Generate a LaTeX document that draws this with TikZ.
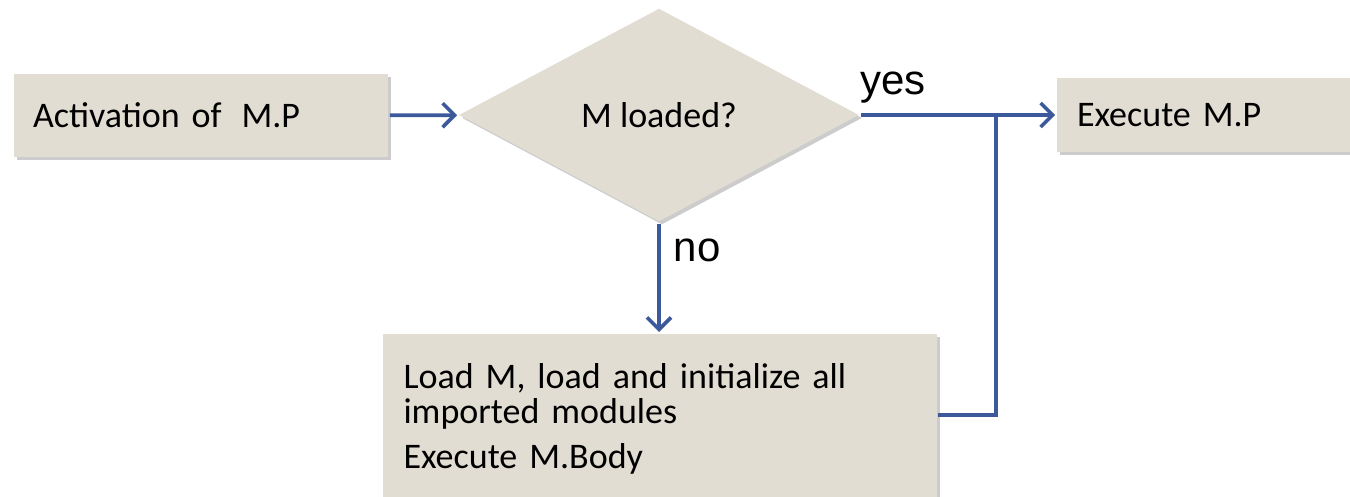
\documentclass[tikz,border=0pt]{standalone}
\usepackage{fontspec}
\setmainfont{Carlito}
\newfontfamily\arialfont{Liberation Sans}
\usepackage{tikz}
\usetikzlibrary{arrows.meta}
\usetikzlibrary{shapes.geometric}
\usetikzlibrary{shadows}
\definecolor{beige}{RGB}{226,221,211}
\definecolor{bleu}{RGB}{60,90,155}

\begin{document}
\begin{tikzpicture}[x=1pt, y=1pt, line width=3.6pt, draw=bleu, -{Straight Barb[length=12pt,width=24pt]}]
  \tikzstyle{shade}=[drop shadow={shadow xshift=3pt, shadow yshift=-3pt, opacity=0.2, fill=black}]
  \tikzstyle{box}=[rectangle, fill=beige, shade, align=left, inner ysep=0pt, font=\fontsize{36}{35}\selectfont]
  \tikzstyle{test}=[diamond, fill=beige, shade, inner sep=0pt, shape aspect=1.87, minimum width=401pt, minimum height=214pt, font=\fontsize{36}{35}\selectfont]
  \tikzstyle{answer}=[font=\arialfont\fontsize{42}{42}\selectfont, inner sep=0pt]

  \useasboundingbox (0,0) rectangle (1350,-497);

	\node[box, minimum height=83pt, text width=336pt, inner xsep=19pt] (Act) at (201,-115.5) {Activation of\hspace{20pt}M.P};
	\node[test]        (Loaded) at (659,-115) {M loaded?};
	\node[box, minimum height=74pt, text width=253pt, inner xsep=20pt] (Exec) at (1203.5,-115) {Execute M.P};
	\node[box, anchor=north, minimum height=170pt, text width=512pt, inner xsep=21pt] (Load) at (659.5,-332)
		{Load M, load and initialize all\\imported modules\\[10pt]Execute M.Body};
	\coordinate (Join) at (996,-115);

	\path
		(Act) edge (Loaded)
		(Loaded.east) edge node[answer, at start, anchor=base west, xshift=-3pt, yshift=20pt] {yes} (Exec)
		(Loaded.south) edge node[answer, at start, anchor=base west, xshift=13pt, yshift=-38pt] {no} (Loaded.south |- Load.north)
		;
	\draw[-] (Load.east |- 0,-415) -| (Join);

\end{tikzpicture}
\end{document}
